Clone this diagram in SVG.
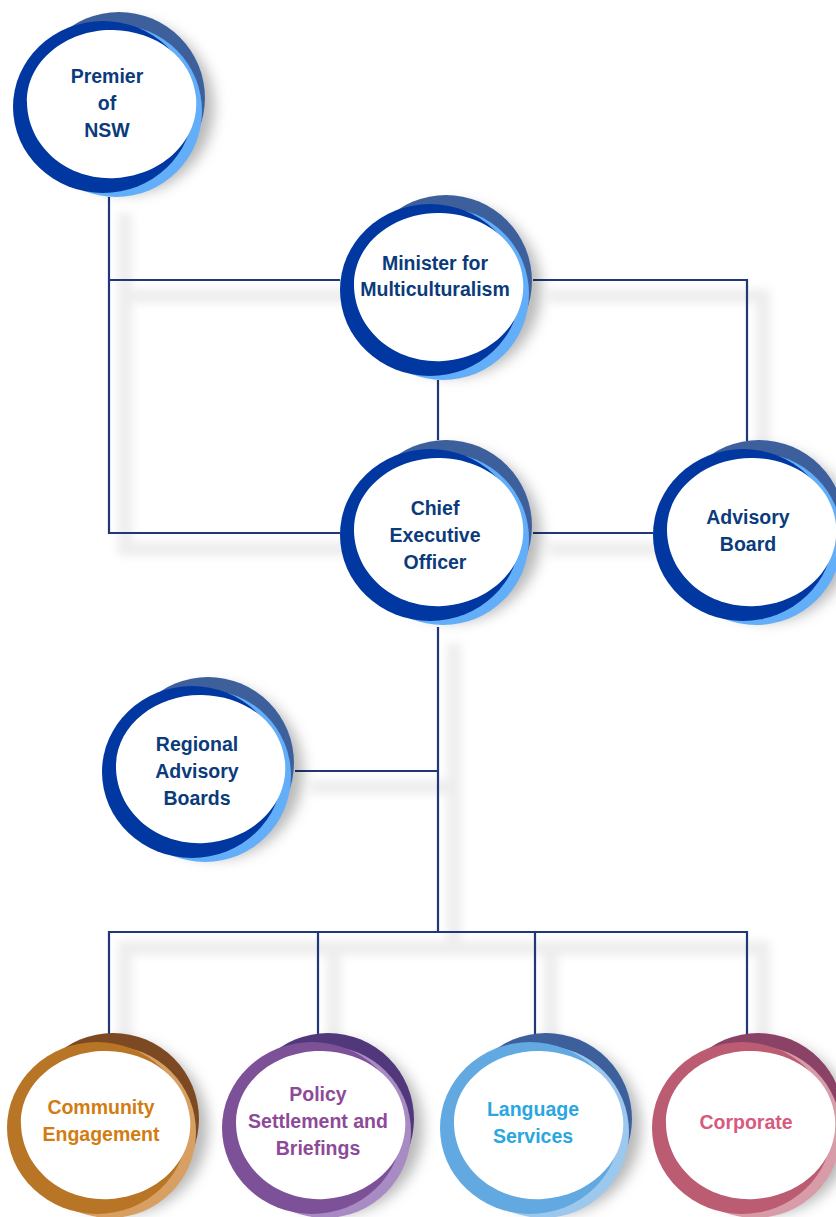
<svg xmlns="http://www.w3.org/2000/svg" xmlns:xlink="http://www.w3.org/1999/xlink" width="836" height="1217" viewBox="0 0 836 1217">
<style>
.ln{fill:none;stroke:#22377a;stroke-width:2.2}
.lnsh{fill:none;stroke:#000;stroke-opacity:0.07;stroke-width:14}
.t{font-family:"Liberation Sans",Arial,sans-serif;font-weight:700;font-size:19.5px;text-anchor:middle}
.tb{fill:#0b3b7a}.to{fill:#d27c12}.tp{fill:#8e4a98}.tl{fill:#2aa6e0}.tc{fill:#d85a7c}
</style>
<defs>
<filter id="sh" x="-30%" y="-30%" width="170%" height="170%">
<feDropShadow dx="9" dy="9" stdDeviation="7" flood-color="#000" flood-opacity="0.28"/>
</filter>
<filter id="lsh" x="-10%" y="-10%" width="120%" height="120%">
<feGaussianBlur stdDeviation="5"/>
</filter>
<path id="blob" d="M-81,-2 C-82,-45 -40,-76 5,-75 C48,-74 84,-48 88,-8 C92,35 55,70 8,73 C-40,76 -80,42 -81,-2 Z" fill="#fff"/>
<g id="r-blue"><g filter="url(#sh)"><circle cx="11" cy="-7" r="86" fill="#3e619c"/></g><circle cx="8" cy="6" r="86" fill="#62aef8"/><ellipse cx="-5" cy="2" rx="90" ry="86" fill="#0037a1"/><use href="#blob"/></g>
<g id="r-orange"><g filter="url(#sh)"><circle cx="11" cy="-7" r="86" fill="#7c4a22"/></g><circle cx="8" cy="6" r="86" fill="#d7a062"/><ellipse cx="-5" cy="2" rx="90" ry="86" fill="#b87526"/><use href="#blob"/></g>
<g id="r-purple"><g filter="url(#sh)"><circle cx="11" cy="-7" r="86" fill="#51387a"/></g><circle cx="8" cy="6" r="86" fill="#a88bc2"/><ellipse cx="-5" cy="2" rx="90" ry="86" fill="#7d5198"/><use href="#blob"/></g>
<g id="r-lang"><g filter="url(#sh)"><circle cx="11" cy="-7" r="86" fill="#3e619c"/></g><circle cx="8" cy="6" r="86" fill="#9dc8ee"/><ellipse cx="-5" cy="2" rx="90" ry="86" fill="#62a9e2"/><use href="#blob"/></g>
<g id="r-corp"><g filter="url(#sh)"><circle cx="11" cy="-7" r="86" fill="#8a4266"/></g><circle cx="8" cy="6" r="86" fill="#d89ba8"/><ellipse cx="-5" cy="2" rx="90" ry="86" fill="#bb5c73"/><use href="#blob"/></g>
</defs>
<rect width="836" height="1217" fill="#fff"/>
<g id="connector-shadows" filter="url(#lsh)" transform="translate(16,16)">
<path class="lnsh" d="M109,197 V533 H340 M109,280 H340 M533,280 H747 V441 M533,533 H653 M438,627 V932 M295,771 H438 M109,1034 V932 H747 V1034 M318,932 V1034 M535,932 V1034"/>
</g>
<g id="connectors">
<path class="ln" d="M109,197 V533 H340"/>
<path class="ln" d="M109,280 H340"/>
<path class="ln" d="M533,280 H747 V441"/>
<path class="ln" d="M438,380 V440"/>
<path class="ln" d="M533,533 H653"/>
<path class="ln" d="M438,627 V932"/>
<path class="ln" d="M295,771 H438"/>
<path class="ln" d="M109,1034 V932 H747 V1034"/>
<path class="ln" d="M318,932 V1034"/>
<path class="ln" d="M535,932 V1034"/>
</g>
<g id="premier"><use href="#r-blue" x="108" y="105"/>
<text class="t tb"><tspan x="107" y="83">Premier</tspan><tspan x="107" y="110">of</tspan><tspan x="107" y="137">NSW</tspan></text></g>
<g id="minister"><use href="#r-blue" x="435" y="288"/>
<text class="t tb"><tspan x="435" y="270">Minister for</tspan><tspan x="435" y="296">Multiculturalism</tspan></text></g>
<g id="ceo"><use href="#r-blue" x="435" y="533"/>
<text class="t tb"><tspan x="435" y="515">Chief</tspan><tspan x="435" y="542">Executive</tspan><tspan x="435" y="569">Officer</tspan></text></g>
<g id="advisory-board"><use href="#r-blue" x="748" y="533"/>
<text class="t tb"><tspan x="748" y="524">Advisory</tspan><tspan x="748" y="551">Board</tspan></text></g>
<g id="regional"><use href="#r-blue" x="197" y="770"/>
<text class="t tb"><tspan x="197" y="751">Regional</tspan><tspan x="197" y="778">Advisory</tspan><tspan x="197" y="805">Boards</tspan></text></g>
<g id="community"><use href="#r-orange" x="102" y="1126"/>
<text class="t to"><tspan x="101" y="1114">Community</tspan><tspan x="101" y="1141">Engagement</tspan></text></g>
<g id="policy"><use href="#r-purple" x="317" y="1126"/>
<text class="t tp"><tspan x="318" y="1101">Policy</tspan><tspan x="318" y="1128">Settlement and</tspan><tspan x="318" y="1155">Briefings</tspan></text></g>
<g id="language"><use href="#r-lang" x="535" y="1126"/>
<text class="t tl"><tspan x="533" y="1116">Language</tspan><tspan x="533" y="1143">Services</tspan></text></g>
<g id="corporate"><use href="#r-corp" x="747" y="1126"/>
<text class="t tc"><tspan x="746" y="1129">Corporate</tspan></text></g>
</svg>
